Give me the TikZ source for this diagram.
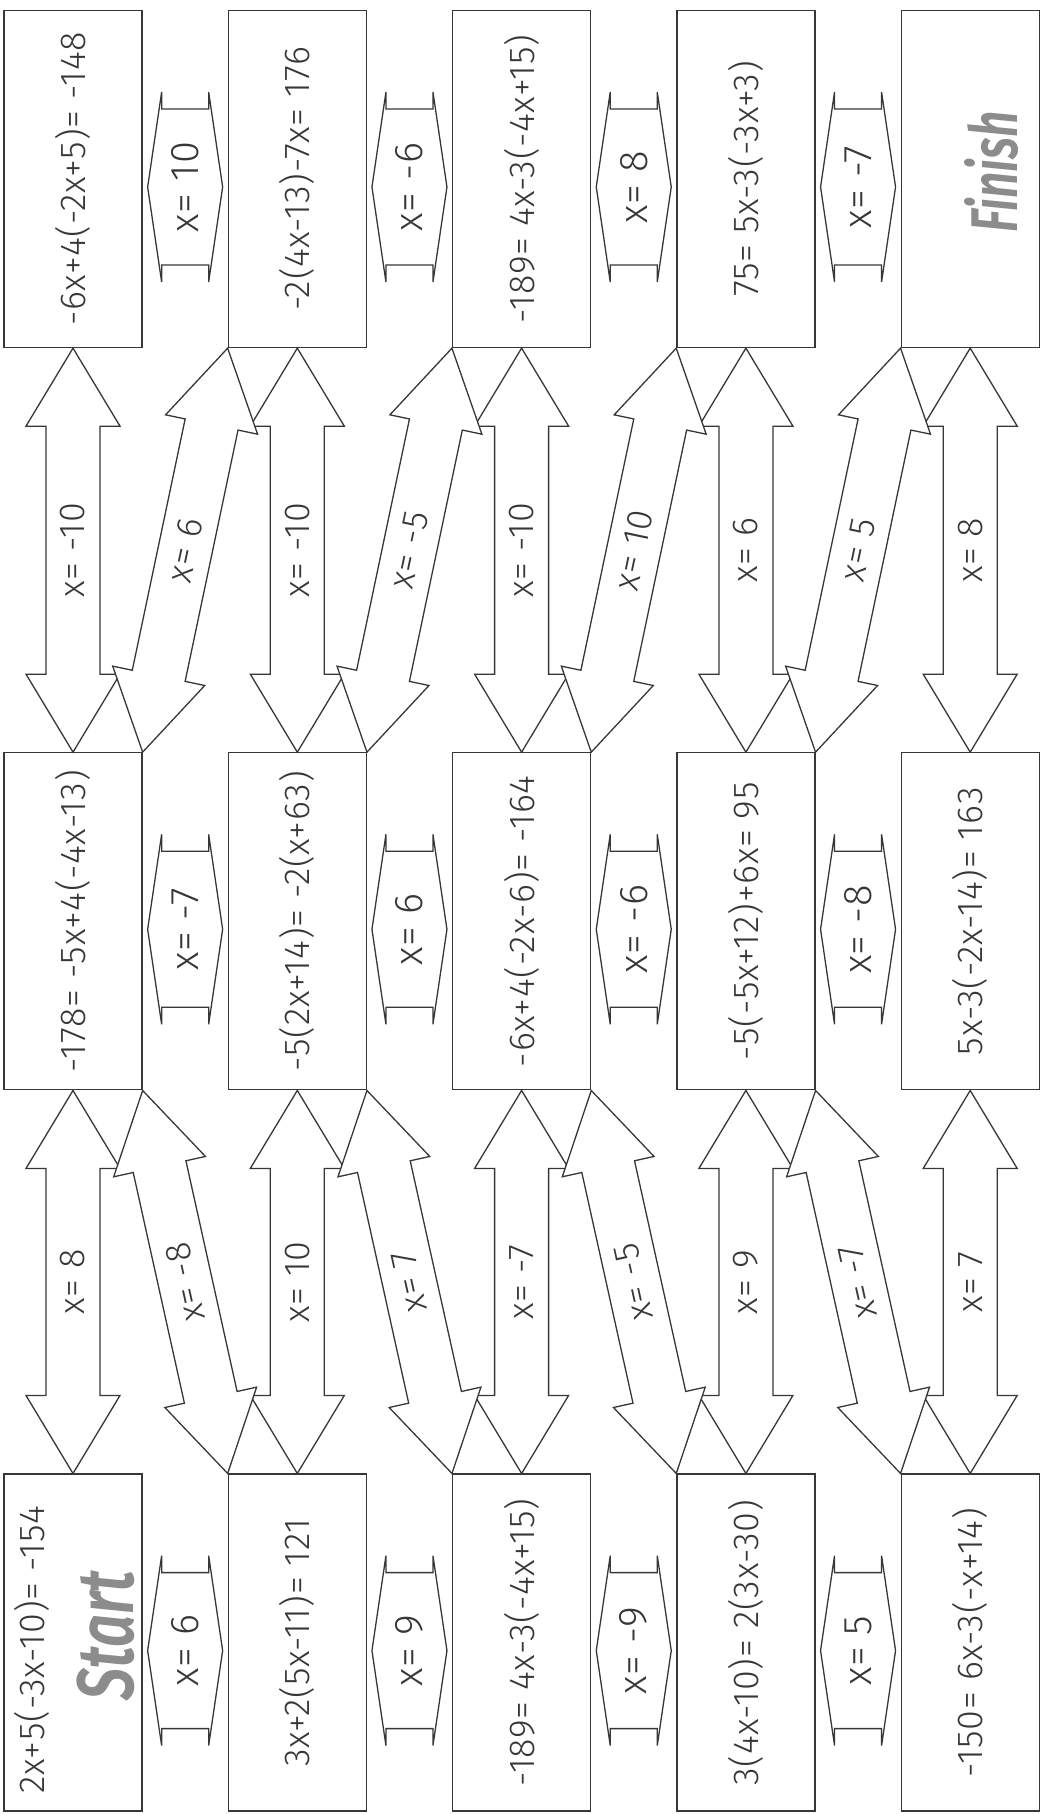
\documentclass[tikz,border=0pt]{standalone}
\usepackage{fontspec}
\setmainfont{Fira Sans}[UprightFont={* Light}, ItalicFont={* Light Italic}, BoldFont={* SemiBold}, BoldItalicFont={* SemiBold Italic}]
\newfontfamily\eqfont{Fira Sans}[UprightFont={* Light}, LetterSpace=2.5]
\usepackage{graphicx}
\usetikzlibrary{positioning,calc}

\definecolor{inkgray}{RGB}{55,55,55}
\definecolor{pencil}{RGB}{140,140,140}

% outline of a double arrow: from, to, head length, head half width, shaft half width
\newcommand{\dblpoly}[5]{%
  \draw[arrowline] let \p1=(#1), \p2=(#2), \n1={atan2(\y2-\y1,\x2-\x1)}, \n2={veclen(\x2-\x1,\y2-\y1)} in
    [shift={(\p1)}, rotate=\n1]
    (0pt,0pt) -- (#3,#4) -- (#3,#5) -- ({\n2*1pt-#3},#5) -- ({\n2*1pt-#3},#4) -- ({\n2*1pt},0pt)
    -- ({\n2*1pt-#3},-#4) -- ({\n2*1pt-#3},-#5) -- (#3,-#5) -- (#3,-#4) -- cycle;
}
% long arrow between two rows (lower end first)
\newcommand{\bigarrow}[3]{%
  \dblpoly{#1}{#2}{78pt}{47pt}{27pt}
  \path (#1) -- node[arrowlabel, sloped, allow upside down] {#3} (#2);
}
% short fat arrow between two boxes of a row
\newcommand{\hexarrow}[3]{%
  \dblpoly{#1}{#2}{14pt}{95pt}{78pt}
  \path (#1) -- node[hexlabel, rotate=90] {#3} (#2);
}

\begin{document}
\begin{tikzpicture}[x=1pt,y=-1pt,
    eqbox/.style={draw=inkgray,line width=1.3pt,fill=white,minimum width=138pt,minimum height=337pt,
      inner sep=0pt,text=inkgray,font=\eqfont\fontsize{36}{40}\selectfont},
    eqtext/.style={text=inkgray,inner sep=0pt,font=\eqfont\fontsize{36}{40}\selectfont},
    arrowline/.style={draw=inkgray,line width=1.3pt,fill=white},
    arrowlabel/.style={text=inkgray,inner sep=0pt,font=\eqfont\fontsize{36}{40}\selectfont},
    hexlabel/.style={text=inkgray,inner sep=0pt,font=\eqfont\fontsize{40}{44}\selectfont},
    handtext/.style={text=pencil,inner sep=0pt}]

  \useasboundingbox (0,0) rectangle (1040,1814);

  % top row
  \node[eqbox]                  (t1) at (73,179) {\rotatebox{90}{-6x+4(-2x+5)= -148}};
  \node[eqbox, right=85pt of t1] (t2) {\rotatebox{90}{-2(4x-13)-7x= 176}};
  \node[eqbox, right=85pt of t2] (t3) {\rotatebox{90}{-189= 4x-3(-4x+15)}};
  \node[eqbox, right=85pt of t3] (t4) {\rotatebox{90}{75= 5x-3(-3x+3)}};
  \node[eqbox, right=85pt of t4] (t5) {};

  % middle row
  \node[eqbox, below=404pt of t1] (m1) {\rotatebox{90}{-178= -5x+4(-4x-13)}};
  \node[eqbox, right=85pt of m1]  (m2) {\rotatebox{90}{-5(2x+14)= -2(x+63)}};
  \node[eqbox, right=85pt of m2]  (m3) {\rotatebox{90}{-6x+4(-2x-6)= -164}};
  \node[eqbox, right=85pt of m3]  (m4) {\rotatebox{90}{-5(-5x+12)+6x= 95}};
  \node[eqbox, right=85pt of m4]  (m5) {\rotatebox{90}{5x-3(-2x-14)= 163}};

  % bottom row
  \node[eqbox, below=383pt of m1] (b1) {};
  \node[eqbox, right=85pt of b1]  (b2) {\rotatebox{90}{3x+2(5x-11)= 121}};
  \node[eqbox, right=85pt of b2]  (b3) {\rotatebox{90}{-189= 4x-3(-4x+15)}};
  \node[eqbox, right=85pt of b3]  (b4) {\rotatebox{90}{3(4x-10)= 2(3x-30)}};
  \node[eqbox, right=85pt of b4]  (b5) {\rotatebox{90}{-150= 6x-3(-x+14)}};

  \node[eqtext] (b1eq) at ([xshift=-41pt,yshift=-7pt]b1.center) {\rotatebox{90}{2x+5(-3x-10)= -154}};
  \node[handtext, font=\fontsize{80}{80}\bfseries\itshape] (start) at ([xshift=33pt,yshift=7pt]b1.center)
    {\rotatebox{90}{\scalebox{0.72}[1]{Start}}};
  \node[handtext, font=\fontsize{66}{66}\bfseries\itshape] (finish) at ([xshift=21pt,yshift=7pt]t5.center)
    {\rotatebox{90}{\scalebox{0.7}[1]{Finish}}};

  % straight arrows, top to middle
  \bigarrow{m1.north}{t1.south}{x= -10}
  \bigarrow{m2.north}{t2.south}{x= -10}
  \bigarrow{m3.north}{t3.south}{x= -10}
  \bigarrow{m4.north}{t4.south}{x= 6}
  \bigarrow{m5.north}{t5.south}{x= 8}
  % slanted arrows, top to middle
  \bigarrow{m1.north east}{t2.south west}{x= 6}
  \bigarrow{m2.north east}{t3.south west}{x= -5}
  \bigarrow{m3.north east}{t4.south west}{x= 10}
  \bigarrow{m4.north east}{t5.south west}{x= 5}

  % straight arrows, middle to bottom
  \bigarrow{b1.north}{m1.south}{x= 8}
  \bigarrow{b2.north}{m2.south}{x= 10}
  \bigarrow{b3.north}{m3.south}{x= -7}
  \bigarrow{b4.north}{m4.south}{x= 9}
  \bigarrow{b5.north}{m5.south}{x= 7}
  % slanted arrows, middle to bottom
  \bigarrow{b2.north west}{m1.south east}{x= -8}
  \bigarrow{b3.north west}{m2.south east}{x= 7}
  \bigarrow{b4.north west}{m3.south east}{x= -5}
  \bigarrow{b5.north west}{m4.south east}{x= -7}

  % short arrows inside the rows
  \hexarrow{[xshift=5pt,yshift=-8pt]t1.east}{[xshift=-5pt,yshift=-8pt]t2.west}{x= 10}
  \hexarrow{[xshift=5pt,yshift=-8pt]t2.east}{[xshift=-5pt,yshift=-8pt]t3.west}{x= -6}
  \hexarrow{[xshift=5pt,yshift=-8pt]t3.east}{[xshift=-5pt,yshift=-8pt]t4.west}{x= 8}
  \hexarrow{[xshift=5pt,yshift=-8pt]t4.east}{[xshift=-5pt,yshift=-8pt]t5.west}{x= -7}

  \hexarrow{[xshift=5pt,yshift=-8pt]m1.east}{[xshift=-5pt,yshift=-8pt]m2.west}{x= -7}
  \hexarrow{[xshift=5pt,yshift=-8pt]m2.east}{[xshift=-5pt,yshift=-8pt]m3.west}{x= 6}
  \hexarrow{[xshift=5pt,yshift=-8pt]m3.east}{[xshift=-5pt,yshift=-8pt]m4.west}{x= -6}
  \hexarrow{[xshift=5pt,yshift=-8pt]m4.east}{[xshift=-5pt,yshift=-8pt]m5.west}{x= -8}

  \hexarrow{[xshift=5pt,yshift=-8pt]b1.east}{[xshift=-5pt,yshift=-8pt]b2.west}{x= 6}
  \hexarrow{[xshift=5pt,yshift=-8pt]b2.east}{[xshift=-5pt,yshift=-8pt]b3.west}{x= 9}
  \hexarrow{[xshift=5pt,yshift=-8pt]b3.east}{[xshift=-5pt,yshift=-8pt]b4.west}{x= -9}
  \hexarrow{[xshift=5pt,yshift=-8pt]b4.east}{[xshift=-5pt,yshift=-8pt]b5.west}{x= 5}
\end{tikzpicture}
\end{document}
